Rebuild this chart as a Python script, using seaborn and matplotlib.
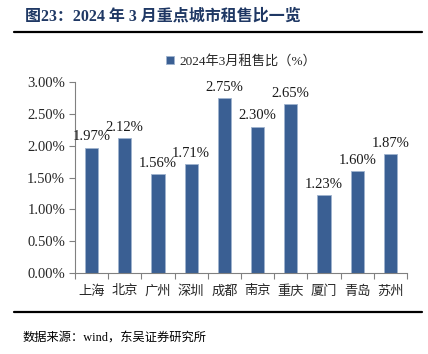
import matplotlib
matplotlib.use("Agg")
import matplotlib.pyplot as plt
import seaborn as sns
import numpy as np
from matplotlib.lines import Line2D
from matplotlib.ticker import FixedLocator, FuncFormatter
from matplotlib.font_manager import FontProperties

sns.set_theme(style="white")
FONT = ['Liberation Serif', 'Noto Sans CJK SC', 'DejaVu Sans']
plt.rcParams['font.family'] = FONT

cities = ["上海", "北京", "广州", "深圳", "成都", "南京", "重庆", "厦门", "青岛", "苏州"]
ratios = [1.97, 2.12, 1.56, 1.71, 2.75, 2.30, 2.65, 1.23, 1.60, 1.87]
series_name = "2024年3月租售比（%）"
title = "图23：2024 年 3 月重点城市租售比一览"
source = "数据来源：wind，东吴证券研究所"

BAR = "#3A5F93"
fig = plt.figure(figsize=(4.28, 3.54), dpi=100)
ax = fig.add_axes([0.175, 0.229, 0.776, 0.539])

sns.barplot(x=cities, y=ratios, color=BAR, width=0.4, ax=ax, label=series_name,
            edgecolor="#9FB3CF", linewidth=0.6, saturation=1)

ax.set_ylim(0, 3.0)
ax.set_xlim(-0.5, len(cities) - 0.5)
ax.yaxis.set_major_locator(FixedLocator(np.arange(0, 3.01, 0.5)))
ax.yaxis.set_major_formatter(FuncFormatter(lambda v, p: f"{v:.2f}%"))
ax.tick_params(axis='y', which='major', direction='out', length=4, width=0.8,
               color='#808080', labelsize=10.5, left=True, pad=3)
ax.tick_params(axis='x', which='major', length=0, labelsize=9.5, pad=9)
ax.xaxis.set_minor_locator(FixedLocator(np.arange(-0.5, len(cities), 1.0)))
ax.tick_params(axis='x', which='minor', direction='out', length=4, width=0.8,
               color='#808080', bottom=True)
for lab in ax.get_yticklabels() + ax.get_xticklabels():
    lab.set_family(FONT)
for s in ['top', 'right']:
    ax.spines[s].set_visible(False)
for s in ['left', 'bottom']:
    ax.spines[s].set_color('#808080')
    ax.spines[s].set_linewidth(0.8)
ax.set_xlabel("")
ax.set_ylabel("")
ax.grid(False)

for i, v in enumerate(ratios):
    ax.annotate(f"{v:.2f}%", (i, v), xytext=(0, 3), textcoords='offset points',
                ha='center', va='bottom', fontsize=10.5, color='#1a1a1a')

leg = ax.legend(loc='center', bbox_to_anchor=(0.5, 1.11), frameon=False,
                prop=FontProperties(family=FONT, size=9.5),
                handlelength=0.6, handleheight=0.6, handletextpad=0.4,
                borderaxespad=0)

fig.text(0.058, 0.952, title, fontsize=11.5, fontweight='bold', color='#1F3864',
         va='center', ha='left')
fig.add_artist(Line2D([0.033, 0.986], [0.909, 0.909], color='black', lw=1.6,
                      transform=fig.transFigure))
fig.add_artist(Line2D([0.033, 0.986], [0.119, 0.119], color='black', lw=1.6,
                      transform=fig.transFigure))
fig.text(0.053, 0.045, source, fontsize=8.8, color='black', va='center', ha='left')

fig.savefig("out.png", dpi=100, facecolor='white')
